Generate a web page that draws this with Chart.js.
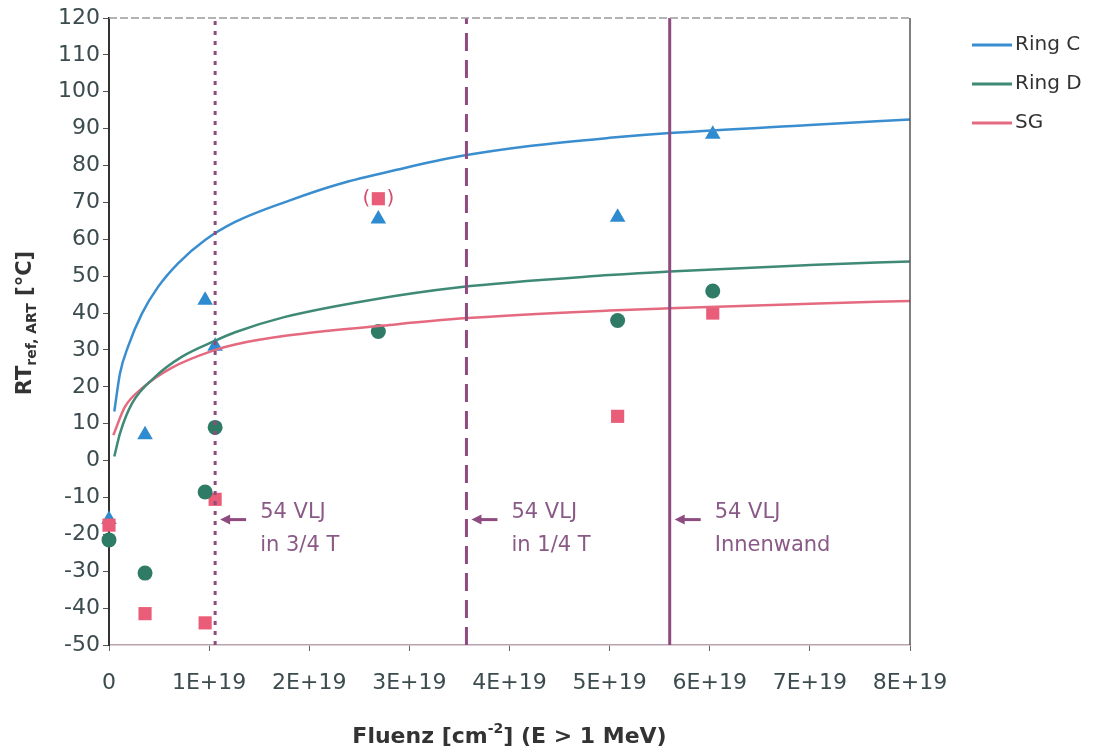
<!DOCTYPE html>
<html>
<head>
<meta charset="utf-8">
<script src="https://cdn.jsdelivr.net/npm/chart.js@4.4.0/dist/chart.umd.min.js"></script>
<style>
  html, body { margin: 0; padding: 0; background: #fff; }
  #wrap { width: 1103px; height: 755px; position: relative; }
</style>
</head>
<body>
<div id="wrap"><canvas id="fluenzChart"></canvas></div>
<script>
// Fluenz in 1E+19 cm^-2, temperatures in degC

// measured points
var measX = [0, 0.36, 0.96, 1.06, 2.69, 5.08, 6.03];
var ringC = [-16, 7, 43.5, 31, 65.5, 66, 88.5];
var ringD = [-21.5, -30.5, -8.5, 9, 35, 38, 46];
var sg    = [-17.5, -41.5, -44, -10.5, 71, 12, 40];

// fitted curves
var curveCX = [0.053, 0.11, 0.19, 0.33, 0.49, 0.69, 0.96, 1.26, 1.8, 2.3, 2.9, 3.5, 4.2, 5.0, 5.6, 7.0, 8.0];
var curveC  = [13.3, 23.7, 30.9, 39.9, 47.1, 53.5, 59.8, 64.7, 70.5, 75, 79, 82.5, 85.3, 87.5, 88.8, 91, 92.5];
var curveDX = [0.053, 0.11, 0.23, 0.46, 0.73, 1.06, 1.26, 1.75, 2.6, 3.5, 5.0, 5.6, 7.0, 8.0];
var curveD  = [1.1, 7.4, 15.5, 22.7, 28.2, 32.5, 34.8, 38.9, 43.5, 47, 50.3, 51.3, 53, 54];
var curveSX = [0.043, 0.16, 0.33, 0.63, 1.06, 1.26, 1.78, 2.74, 3.5, 5.0, 5.6, 7.0, 8.0];
var curveS  = [6.9, 14.6, 19.6, 25.2, 30.0, 31.5, 33.9, 36.6, 38.5, 40.7, 41.3, 42.5, 43.3];

// vertical marker lines (54 VLJ)
var markerX = [1.06, 3.57, 5.6];
var markerText = [["54 VLJ", "in 3/4 T"], ["54 VLJ", "in 1/4 T"], ["54 VLJ", "Innenwand"]];
var markerDash = [[4, 6], [18, 9], []];
var markerY = -16;   // height of the arrows

var bracketPoint = {x: 2.69, y: 71};   // the "( )" SG value

var xTicks = [0, 1, 2, 3, 4, 5, 6, 7, 8];
var yMin = -50, yMax = 120;

var legendNames = ["Ring C", "Ring D", "SG"];

var blue = "#3a8ecf";
var green = "#3f8a76";
var pink = "#e56a80";
var purple = "#8e4b7f";
var tickColor = "#3b4b4e";

function pts(xs, ys) {
    return xs.map(function (x, i) { return {x: x, y: ys[i]}; });
}

var datasets = [];

markerX.forEach(function (mx, i) {
    datasets.push({
        data: [{x: mx, y: yMin}, {x: mx, y: yMax}],
        borderColor: purple,
        borderWidth: 3,
        borderDash: markerDash[i],
        pointRadius: 0,
        showLine: true
    });
});

datasets.push(
    {data: pts(curveCX, curveC), borderColor: blue, borderWidth: 2.5, pointRadius: 0, showLine: true, cubicInterpolationMode: 'monotone'},
    {data: pts(curveDX, curveD), borderColor: green, borderWidth: 2.5, pointRadius: 0, showLine: true, cubicInterpolationMode: 'monotone'},
    {data: pts(curveSX, curveS), borderColor: pink, borderWidth: 2.5, pointRadius: 0, showLine: true, cubicInterpolationMode: 'monotone'},
    {data: pts(measX, ringD), pointStyle: 'circle', pointRadius: 7.5, backgroundColor: "#2f7b66", borderWidth: 0, showLine: false, clip: false},
    {data: pts(measX, sg), pointStyle: 'rect', pointRadius: 9.3, backgroundColor: "#ea5d78", borderWidth: 0, showLine: false, clip: false},
    {data: pts(measX, ringC), pointStyle: 'triangle', pointRadius: 9, backgroundColor: "#2f8bcf", borderWidth: 0, showLine: false, clip: false}
);

// frame, annotations, axis titles and legend
var decorPlugin = {
    id: 'decor',
    afterDatasetsDraw: function (chart) {
        var ctx = chart.ctx;
        var a = chart.chartArea;
        var xs = chart.scales.x, ys = chart.scales.y;
        ctx.save();

        // top dashed border
        ctx.strokeStyle = "#9a9a9a";
        ctx.lineWidth = 1.5;
        ctx.setLineDash([8, 3]);
        ctx.beginPath(); ctx.moveTo(a.left, a.top); ctx.lineTo(a.right, a.top); ctx.stroke();
        ctx.setLineDash([]);
        // right border
        ctx.strokeStyle = "#555";
        ctx.lineWidth = 1.5;
        ctx.beginPath(); ctx.moveTo(a.right, a.top); ctx.lineTo(a.right, a.bottom); ctx.stroke();

        // arrows and labels at marker lines
        var ay = ys.getPixelForValue(markerY);
        ctx.font = "21px 'DejaVu Sans'";
        ctx.textBaseline = 'middle';
        ctx.textAlign = 'left';
        markerX.forEach(function (mx, i) {
            var px = xs.getPixelForValue(mx);
            ctx.strokeStyle = purple;
            ctx.fillStyle = purple;
            ctx.lineWidth = 3;
            ctx.beginPath(); ctx.moveTo(px + 12, ay); ctx.lineTo(px + 31, ay); ctx.stroke();
            ctx.beginPath();
            ctx.moveTo(px + 5, ay); ctx.lineTo(px + 15, ay - 5); ctx.lineTo(px + 15, ay + 5);
            ctx.closePath(); ctx.fill();
            ctx.fillStyle = "#8a5a86";
            ctx.fillText(markerText[i][0], px + 45, ay - 7);
            ctx.fillText(markerText[i][1], px + 45, ay + 26);
        });

        // brackets around the doubtful SG value
        var bx = xs.getPixelForValue(bracketPoint.x);
        var by = ys.getPixelForValue(bracketPoint.y);
        ctx.fillStyle = "#d4506e";
        ctx.font = "20px 'DejaVu Sans'";
        ctx.textAlign = 'center';
        ctx.fillText("(", bx - 12, by);
        ctx.fillText(")", bx + 12, by);

        // legend
        var cols = [blue, green, pink];
        ctx.font = "20px 'DejaVu Sans'";
        ctx.textAlign = 'left';
        legendNames.forEach(function (n, i) {
            var ly = 45 + i * 39;
            ctx.strokeStyle = cols[i];
            ctx.lineWidth = 3;
            ctx.beginPath(); ctx.moveTo(972, ly); ctx.lineTo(1012, ly); ctx.stroke();
            ctx.fillStyle = "#333";
            ctx.fillText(n, 1015, ly);
        });

        // x axis title
        ctx.fillStyle = "#333";
        ctx.textBaseline = 'alphabetic';
        var big = "bold 22px 'DejaVu Sans'", small = "bold 14px 'DejaVu Sans'";
        var parts = [["Fluenz [cm", big, 0], ["-2", small, -10], ["] (E > 1 MeV)", big, 0]];
        var total = 0;
        parts.forEach(function (p) { ctx.font = p[1]; total += ctx.measureText(p[0]).width; });
        var tx = (a.left + a.right) / 2 - total / 2, tyBase = 743;
        parts.forEach(function (p) {
            ctx.font = p[1];
            ctx.fillText(p[0], tx, tyBase + p[2]);
            tx += ctx.measureText(p[0]).width;
        });

        // y axis title
        ctx.translate(31, 323);
        ctx.rotate(-Math.PI / 2);
        var yparts = [["RT", "bold 21px 'DejaVu Sans'", 0], ["ref, ART", "bold 14px 'DejaVu Sans'", 5], [" [\u00b0C]", "bold 21px 'DejaVu Sans'", 0]];
        total = 0;
        yparts.forEach(function (p) { ctx.font = p[1]; total += ctx.measureText(p[0]).width; });
        tx = -total / 2;
        yparts.forEach(function (p) {
            ctx.font = p[1];
            ctx.fillText(p[0], tx, p[2]);
            tx += ctx.measureText(p[0]).width;
        });
        ctx.restore();
    }
};

var ctx = document.getElementById("fluenzChart").getContext("2d");
new Chart(ctx, {
    type: 'scatter',
    data: {datasets: datasets},
    plugins: [decorPlugin],
    options: {
        responsive: true,
        maintainAspectRatio: false,
        animation: false,
        layout: {padding: {top: 18, right: 193, left: 0, bottom: 0}},
        plugins: {legend: {display: false}, tooltip: {enabled: false}},
        scales: {
            x: {
                type: 'linear',
                min: 0, max: 8,
                afterFit: function (s) { s.height = 110; },
                afterBuildTicks: function (s) { s.ticks = xTicks.map(function (v) { return {value: v}; }); },
                grid: {drawOnChartArea: false, tickLength: 6, color: "#666"},
                border: {color: "#b9a3ad", width: 1.5, dash: [10, 3]},
                ticks: {
                    color: tickColor,
                    font: {family: "'DejaVu Sans'", size: 22},
                    padding: 19,
                    maxRotation: 0,
                    callback: function (v) { return v === 0 ? "0" : v + "E+19"; }
                }
            },
            y: {
                min: yMin, max: yMax,
                afterFit: function (s) { s.width = 109; },
                grid: {drawOnChartArea: false, tickLength: 6, color: "#555"},
                border: {color: "#333", width: 2},
                ticks: {
                    stepSize: 10,
                    color: tickColor,
                    font: {family: "'DejaVu Sans'", size: 22},
                    padding: 3
                }
            }
        }
    }
});
</script>
</body>
</html>
